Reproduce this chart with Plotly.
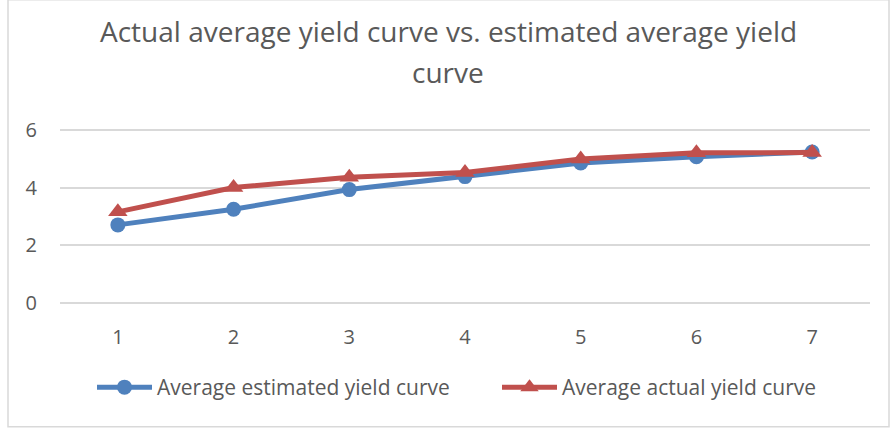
import plotly.graph_objects as go

# Maturity buckets and average yields
maturities = [1, 2, 3, 4, 5, 6, 7]
estimated_yield = [2.71, 3.25, 3.93, 4.38, 4.85, 5.07, 5.23]
actual_yield = [3.16, 4.00, 4.36, 4.52, 4.99, 5.20, 5.21]
y_ticks = [0, 2, 4, 6]

BLUE = "#4F81BD"
RED = "#C0504D"
TEXT = "#595959"
FONT = "Open Sans"

fig = go.Figure()
fig.add_trace(go.Scatter(
    x=maturities, y=estimated_yield, mode="lines+markers",
    name="Average estimated yield curve", legend="legend",
    line=dict(color=BLUE, width=5),
    marker=dict(symbol="circle", size=15, color=BLUE),
))
fig.add_trace(go.Scatter(
    x=maturities, y=actual_yield, mode="lines+markers",
    name="Average actual yield curve", legend="legend2",
    line=dict(color=RED, width=5),
    marker=dict(symbol="triangle-up", size=17, color=RED),
))

# y range padded slightly so the 0 and 6 gridlines are kept;
# the 0..6 span sits at y 130..303 of the 890x430 page
Y0, Y1 = -0.06, 6.06
PX_PER_UNIT = (303 - 130) / 6
L, R = 60, 20
T = 130 - (Y1 - 6) * PX_PER_UNIT
B = 430 - 303 - (0 - Y0) * PX_PER_UNIT
W, H = 890 - L - R, 430 - T - B

def px(x):
    return (x - L) / W

def py(y):
    return (430 - B - y) / H

legend_style = dict(
    orientation="h", yanchor="middle", xanchor="left",
    font=dict(size=21, color=TEXT, family=FONT), itemwidth=55,
    bgcolor="rgba(0,0,0,0)",
)

fig.update_layout(
    width=890, height=430,
    margin=dict(l=L, r=R, t=T, b=B),
    paper_bgcolor="white", plot_bgcolor="white",
    font=dict(family=FONT, color=TEXT, size=20),
    showlegend=True,
    legend=dict(x=px(92), y=py(387), **legend_style),
    legend2=dict(x=px(497), y=py(387), **legend_style),
    xaxis=dict(
        range=[0.5, 7.5], tickvals=maturities, showgrid=False, zeroline=False,
        showline=False, ticks="outside", ticklen=14, tickcolor="rgba(0,0,0,0)",
        tickfont=dict(size=20, color=TEXT), fixedrange=True,
    ),
    yaxis=dict(
        range=[Y0, Y1], tickvals=y_ticks, showgrid=True,
        gridcolor="#D9D9D9", gridwidth=1.5, zeroline=False, showline=False,
        ticks="outside", ticklen=18, tickcolor="rgba(0,0,0,0)",
        tickfont=dict(size=20, color=TEXT), fixedrange=True,
    ),
    shapes=[dict(
        type="rect", xref="paper", yref="paper",
        x0=px(8), x1=px(889), y0=py(426), y1=py(0.5),
        line=dict(color="#D9D9D9", width=1.5), fillcolor="rgba(0,0,0,0)",
        layer="below",
    )],
    annotations=[
        dict(text="Actual average yield curve vs. estimated average yield",
             xref="paper", yref="paper", x=px(448), y=py(32),
             xanchor="center", yanchor="middle", showarrow=False,
             font=dict(size=28, color=TEXT, family=FONT)),
        dict(text="curve", xref="paper", yref="paper", x=px(448), y=py(72),
             xanchor="center", yanchor="middle", showarrow=False,
             font=dict(size=28, color=TEXT, family=FONT)),
    ],
)

fig.write_html("out.html")
